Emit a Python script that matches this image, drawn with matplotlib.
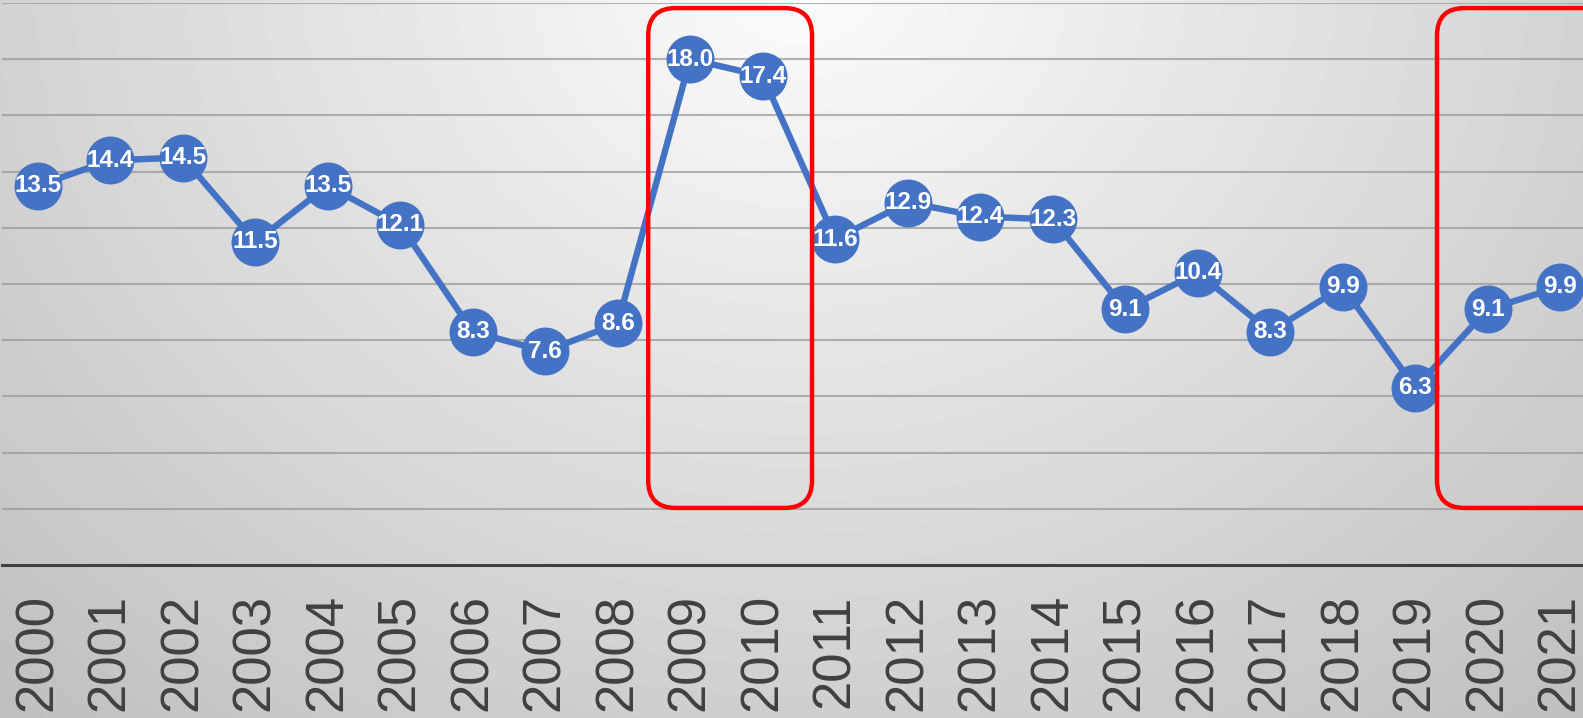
import numpy as np
import matplotlib.pyplot as plt
from matplotlib.patches import FancyBboxPatch

plt.rcParams['font.family'] = ['Liberation Sans', 'DejaVu Sans']

# data
years = [str(y) for y in range(2000, 2022)]
values = [13.5, 14.4, 14.5, 11.5, 13.5, 12.1, 8.3, 7.6, 8.6, 18.0, 17.4,
          11.6, 12.9, 12.4, 12.3, 9.1, 10.4, 8.3, 9.9, 6.3, 9.1, 9.9]
# highlighted spans (category index range) drawn as red rounded boxes
highlights = [(8.42, 10.68), (19.30, 21.9)]

W, H, DPI = 1583, 718, 100
fig = plt.figure(figsize=(W / DPI, H / DPI), dpi=DPI)

# radial grey background, bright near the top centre
bg = fig.add_axes([0, 0, 1, 1], zorder=-10)
yy, xx = np.mgrid[0:H, 0:W]
d = np.sqrt(((xx - 800) / 1000.0) ** 2 + ((yy + 20) / 850.0) ** 2)
shade = np.clip(252 - 52 * d, 192, 252) / 255.0
bg.imshow(shade, cmap='gray', vmin=0, vmax=1, aspect='auto',
          extent=[0, 1, 0, 1], origin='upper')
bg.axis('off')

# plot area runs a little past the right edge (last category is cut off)
ax = fig.add_axes([1.5 / W, (H - 565) / H, 1595 / W, (565 - 3) / H])
ax.set_facecolor('none')
x = np.arange(len(years))

ax.plot(x, values, color='#4472C4', lw=4.6, marker='o', markersize=33.5,
        markerfacecolor='#4472C4', markeredgecolor='#4472C4', zorder=3)
for xi, v in zip(x, values):
    ax.text(xi, v, f'{v:.1f}', color='white', fontsize=17.5, fontweight='bold',
            ha='center', va='center', zorder=4)

ax.set_xlim(-0.5, len(years) - 0.5)
ax.set_ylim(0, 20)
ax.set_yticks(np.arange(2, 21, 2))
ax.yaxis.grid(True, color='#9a9a9a', lw=1.5, alpha=0.75)
ax.set_axisbelow(True)
ax.tick_params(axis='y', left=False, labelleft=False)
ax.set_xticks(x)
ax.set_xticklabels(years, rotation=90, fontsize=38, color='#404040')
ax.tick_params(axis='x', length=0, pad=21)
for s in ['top', 'left', 'right']:
    ax.spines[s].set_visible(False)
ax.spines['bottom'].set_color('#404040')
ax.spines['bottom'].set_linewidth(2.2)

# rounded boxes: fix the rounding so it looks round in pixels
xpx = ax.bbox.width / len(years)
ypx = ax.bbox.height / 20.0
for x0, x1 in highlights:
    box = FancyBboxPatch((x0, 2.03), x1 - x0, 19.82 - 2.03,
                         boxstyle='round,pad=0,rounding_size=0.38',
                         mutation_aspect=xpx / ypx, fill=False,
                         edgecolor='#FF0000', lw=3.2, zorder=5, clip_on=False)
    ax.add_patch(box)

fig.savefig('out.png', dpi=DPI)
